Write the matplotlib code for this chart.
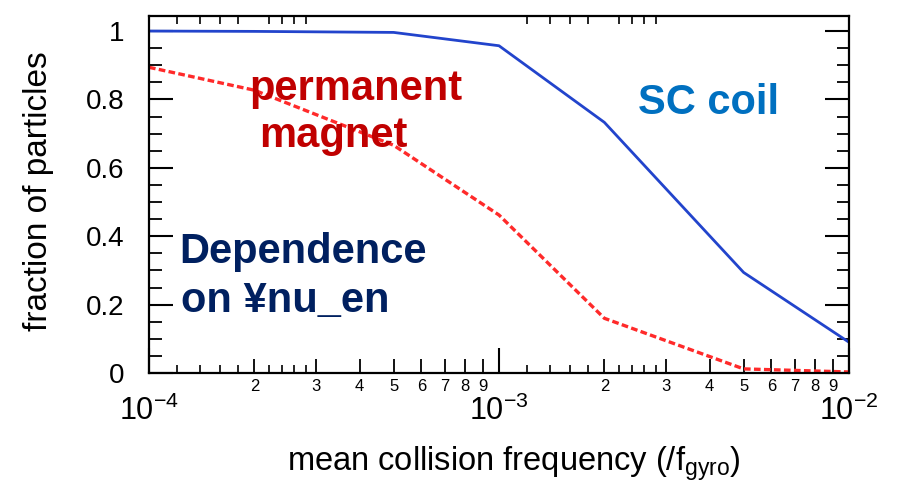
import numpy as np
import matplotlib
matplotlib.use("Agg")
import matplotlib.pyplot as plt
from matplotlib.ticker import LogLocator, FixedLocator, FuncFormatter, MultipleLocator, NullFormatter

# data
freq = [1e-4, 2e-4, 5e-4, 1e-3, 2e-3, 5e-3, 1e-2]
sc_coil = [1.0, 0.999, 0.996, 0.957, 0.733, 0.294, 0.090]
perm_magnet = [0.894, 0.827, 0.666, 0.462, 0.160, 0.012, 0.003]
fine_subs = [1.2, 1.4, 1.6, 1.8, 2.2, 2.4, 2.6, 2.8]

plt.rcParams['font.family'] = ['Liberation Sans', 'DejaVu Sans']
plt.rcParams['mathtext.fontset'] = 'custom'
plt.rcParams['mathtext.rm'] = 'Liberation Sans'
plt.rcParams['mathtext.it'] = 'Liberation Sans'

fig = plt.figure(figsize=(8.97, 4.83), dpi=100)
ax = fig.add_axes([149 / 897, 1 - 373 / 483, 700 / 897, 357 / 483])

ax.plot(freq, sc_coil, color='#2244cc', lw=2.0)
ax.plot(freq, perm_magnet, color='#ff2a2a', lw=2.4, linestyle=(0, (2.0, 1.0)))

ax.set_xscale('log')
ax.set_xlim(1e-4, 1e-2)
ax.set_ylim(0, 1.044)

# x ticks
ax.xaxis.set_major_locator(LogLocator(base=10, numticks=10))
ax.xaxis.set_minor_locator(LogLocator(base=10, subs=np.arange(2, 10), numticks=20))
ax.xaxis.set_major_formatter(FuncFormatter(lambda v, p: r'$\mathrm{10}^{\mathrm{%d}}$' % round(np.log10(v))))
ax.xaxis.set_minor_formatter(FuncFormatter(lambda v, p: '%d' % round(v / 10 ** np.floor(np.log10(v) + 1e-9))))
ax.tick_params(axis='x', which='major', direction='in', length=18, width=1.5, pad=16,
               top=True, labelsize=22)
ax.tick_params(axis='x', which='minor', direction='in', length=10, width=1.3, pad=4,
               top=True, labelsize=12)

# y ticks
ax.yaxis.set_major_locator(MultipleLocator(0.2))
ax.yaxis.set_minor_locator(MultipleLocator(0.05))
ax.yaxis.set_major_formatter(FuncFormatter(lambda v, p: '%g' % round(v, 2)))
ax.tick_params(axis='y', which='major', direction='in', length=17, width=1.5, pad=18,
               right=True, labelsize=20)
ax.tick_params(axis='y', which='minor', direction='in', length=9, width=1.3, right=True)

for s in ax.spines.values():
    s.set_linewidth(1.6)

# finer ticks between 1 and 3 of each decade
ax2 = ax.twiny()
ax2.set_xscale('log')
ax2.set_xlim(ax.get_xlim())
fine = [s * d for d in [1e-4, 1e-3] for s in fine_subs]
ax2.xaxis.set_major_locator(FixedLocator(fine))
ax2.xaxis.set_minor_locator(FixedLocator([]))
ax2.xaxis.set_major_formatter(NullFormatter())
ax2.tick_params(axis='x', which='major', direction='in', length=6, width=1.2,
                top=True, bottom=True, labeltop=False, labelbottom=False)
for s in ax2.spines.values():
    s.set_visible(False)

ax.set_xlabel(r'mean collision frequency (/f$_{\mathrm{gyro}}$)', fontsize=23.5)
ax.xaxis.set_label_coords(0.521, -0.2)
ax.set_ylabel('fraction of particles', fontsize=24)
ax.yaxis.set_label_coords(-0.136, 0.51)

# annotations
ax.text(0.699, 0.725, 'SC coil', transform=ax.transAxes, color='#0070c0',
        fontsize=30, fontweight='bold', va='baseline', ha='left')
ax.text(0.296, 0.765, 'permanent', transform=ax.transAxes, color='#c00000',
        fontsize=30, fontweight='bold', va='baseline', ha='center')
ax.text(0.263, 0.633, 'magnet', transform=ax.transAxes, color='#c00000',
        fontsize=30, fontweight='bold', va='baseline', ha='center')
ax.text(0.043, 0.308, 'Dependence', transform=ax.transAxes, color='#002060',
        fontsize=30, fontweight='bold', va='baseline', ha='left')
ax.text(0.045, 0.171, 'on ¥nu_en', transform=ax.transAxes, color='#002060',
        fontsize=30, fontweight='bold', va='baseline', ha='left')

fig.savefig('out.png', dpi=100)
